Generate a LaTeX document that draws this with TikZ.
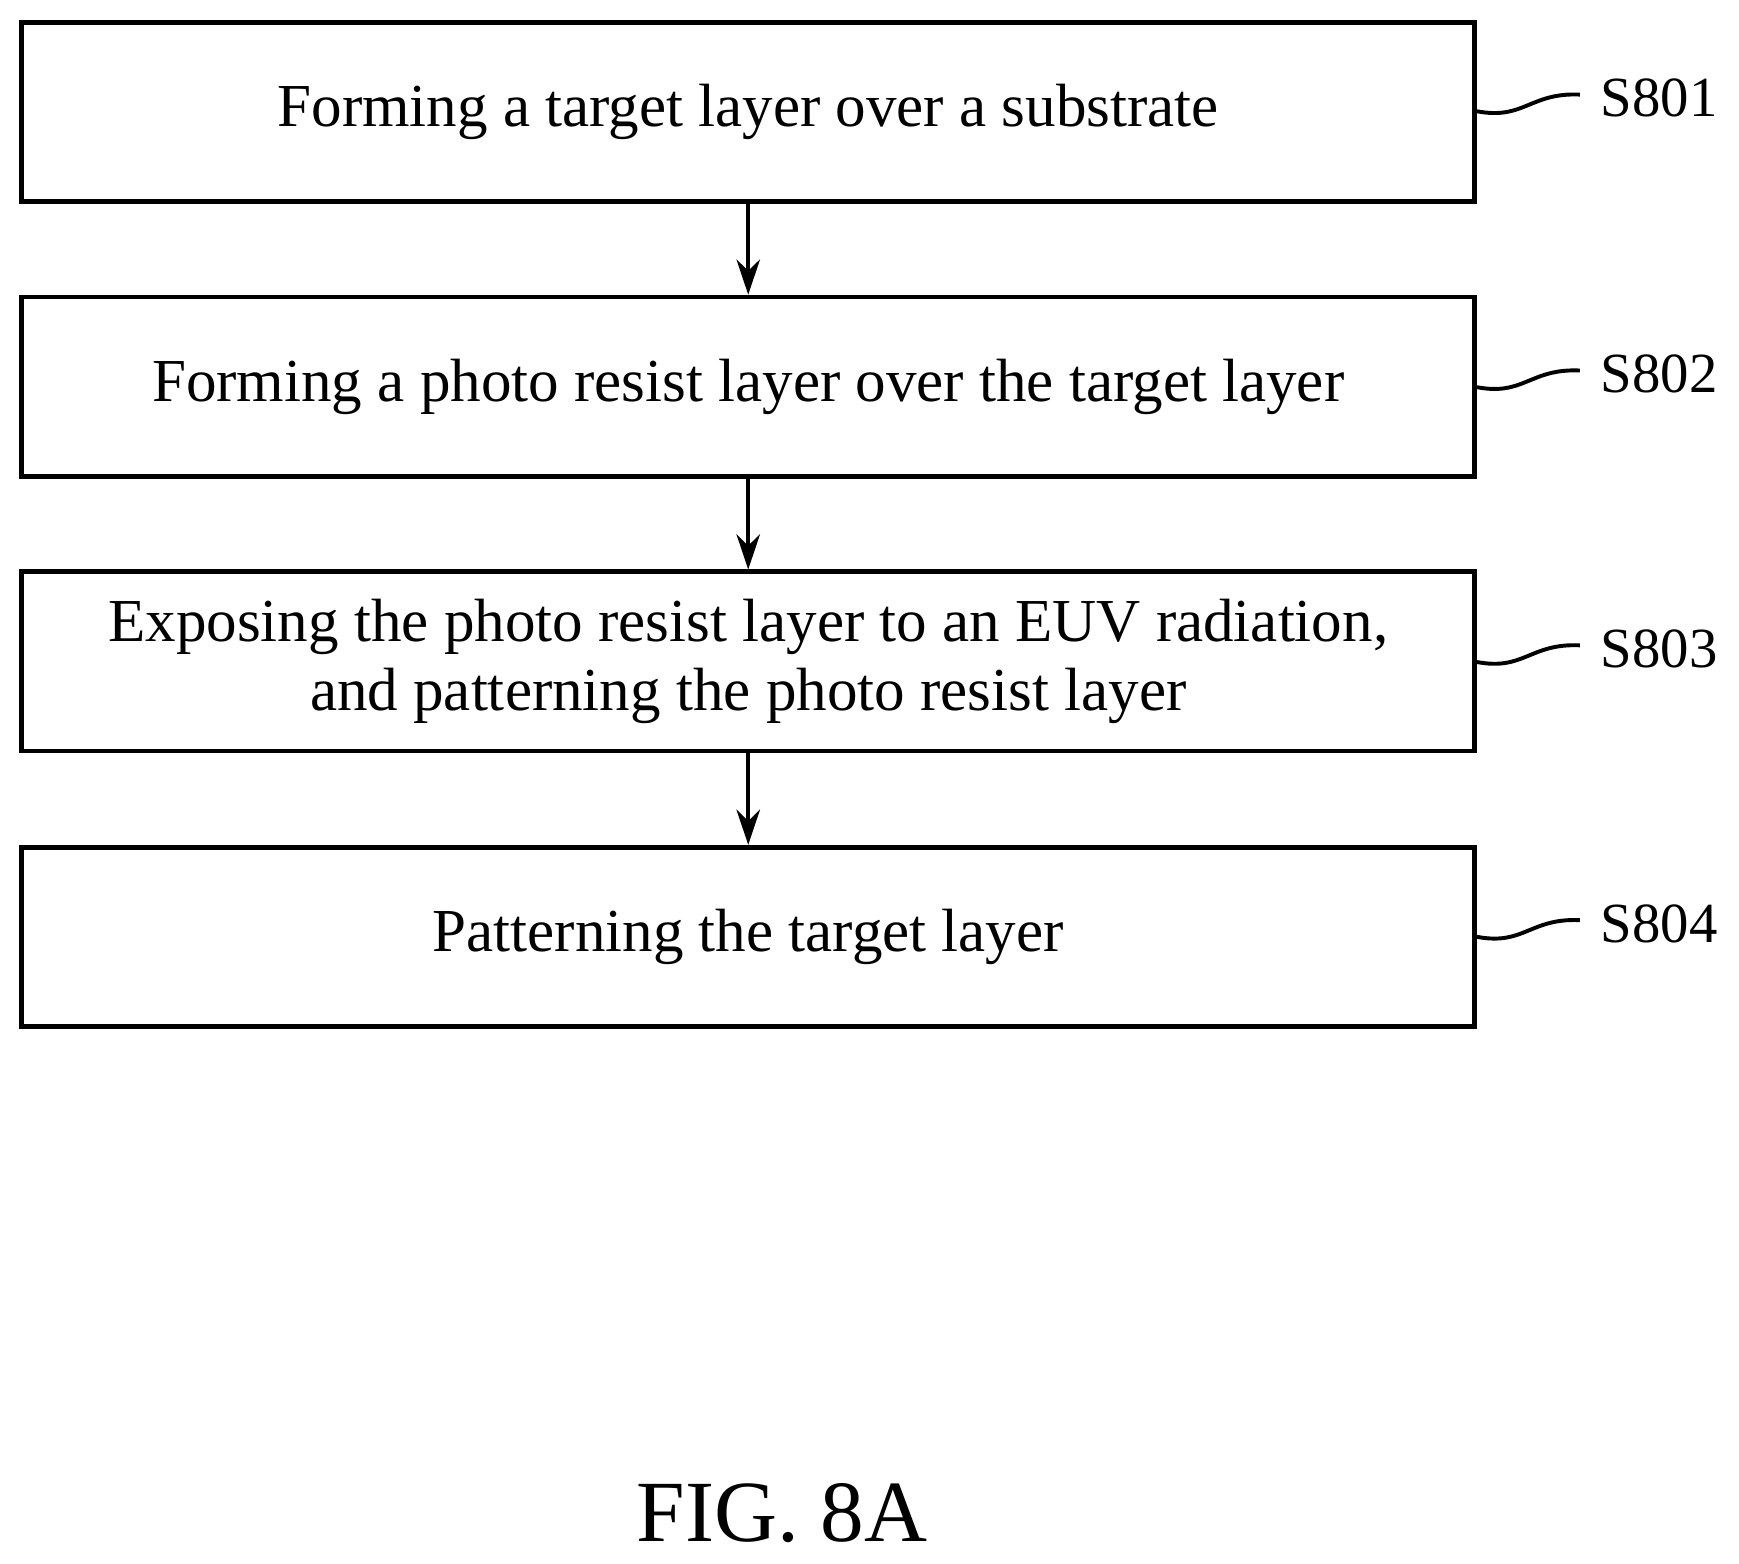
\documentclass[tikz,border=0pt]{standalone}
\usepackage{fontspec}
\usetikzlibrary{arrows.meta}
\setmainfont{Liberation Serif}
\begin{document}
\begin{tikzpicture}[x=0.01cm,y=-0.01cm,
  box/.style={draw,line width=1.2pt,minimum width=13.05cm,minimum height=1.61cm,inner sep=0pt,align=center,font=\fontsize{15.6}{17.6}\selectfont},
  arr/.style={-{Stealth[length=9pt,width=6pt]},line width=1.1pt},
  lab/.style={anchor=west,font=\fontsize{14.5}{18}\selectfont,inner sep=0pt},
  sq/.style={line width=1pt}]
\useasboundingbox (0,0) rectangle (1563,1405);
\node[box] (b1) at (672.5,100.5) {Forming a target layer over a substrate};
\node[box] (b2) at (672.5,347.5) {Forming a photo resist layer over the target layer};
\node[box] (b3) at (672.5,594.5) {Exposing the photo resist layer to an EUV radiation,\\and patterning the photo resist layer};
\node[box] (b4) at (672.5,842) {Patterning the target layer};
\draw[arr] (b1) -- (b2);
\draw[arr] (b2) -- (b3);
\draw[arr] (b3) -- (b4);
\foreach \i/\y in {1/100,2/348,3/595,4/842}{
  \coordinate (c\i) at (1420,\y-15);
  \draw[sq] (b\i.east |- 0,\y) .. controls (1370,\y+8) and (1375,\y-17) .. (c\i);
  \node[lab] at (1438,\y-12) {S80\i};
}
\node[font=\fontsize{22.3}{26}\selectfont] (fig) at (703,1360) {FIG. 8A};
\end{tikzpicture}
\end{document}
